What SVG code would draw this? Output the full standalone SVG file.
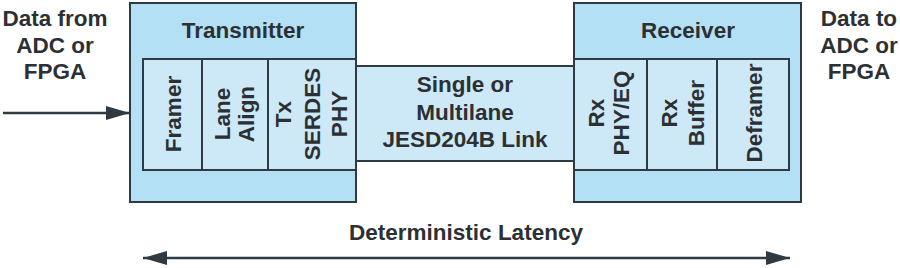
<svg xmlns="http://www.w3.org/2000/svg" width="900" height="268" viewBox="0 0 900 268">
<style>
text{font-family:"Liberation Sans",Arial,Helvetica,sans-serif;font-weight:bold;font-size:22.5px;fill:#2c3034;text-anchor:middle}
.outer{fill:#b4e0f5;stroke:#2f3a42;stroke-width:2}
.inner{fill:#cde9f7;stroke:#2f3a42;stroke-width:2}
.wire{stroke:#2f3a42;stroke-width:2.5;fill:none}
</style>
<defs>
<marker id="ah" viewBox="0 0 24 14" refX="24" refY="7" markerWidth="24" markerHeight="14" markerUnits="userSpaceOnUse" orient="auto-start-reverse">
<path d="M0,0 L24,7 L0,14 Z" fill="#2f3a42"/>
</marker>
</defs>
<g id="input-label">
<text x="55" y="26">Data from</text>
<text x="55" y="53">ADC or</text>
<text x="55" y="79">FPGA</text>
</g>
<g id="output-label">
<text x="859" y="26">Data to</text>
<text x="859" y="53">ADC or</text>
<text x="859" y="79">FPGA</text>
</g>
<g id="transmitter">
<rect class="outer" x="130" y="3" width="226" height="199"/>
<text x="243" y="38">Transmitter</text>
</g>
<g id="framer">
<rect class="inner" x="143" y="59" width="59" height="111"/>
<text transform="translate(181,114) rotate(-90)">Framer</text>
</g>
<g id="lane-align">
<rect class="inner" x="202" y="59" width="66" height="111"/>
<text transform="translate(229.5,114) rotate(-90)"><tspan x="0" y="0">Lane</tspan><tspan x="0" y="24">Align</tspan></text>
</g>
<g id="tx-serdes-phy">
<rect class="inner" x="268" y="59" width="88" height="111"/>
<text transform="translate(291,114) rotate(-90)"><tspan x="0" y="0">Tx</tspan><tspan x="0" y="29">SERDES</tspan><tspan x="0" y="56">PHY</tspan></text>
</g>
<g id="link">
<rect class="inner" x="356" y="66" width="218" height="95"/>
<text x="465" y="92">Single or</text>
<text x="465" y="119.5">Multilane</text>
<text x="465" y="147">JESD204B Link</text>
</g>
<g id="receiver">
<rect class="outer" x="574" y="3" width="227" height="199"/>
<text x="688" y="38">Receiver</text>
</g>
<g id="rx-phy-eq">
<rect class="inner" x="574" y="59" width="73" height="111"/>
<text transform="translate(603.5,113) rotate(-90)"><tspan x="0" y="0">Rx</tspan><tspan x="0" y="25.5">PHY/EQ</tspan></text>
</g>
<g id="rx-buffer">
<rect class="inner" x="647" y="59" width="70" height="111"/>
<text transform="translate(677,113) rotate(-90)"><tspan x="0" y="0">Rx</tspan><tspan x="0" y="26.5">Buffer</tspan></text>
</g>
<g id="deframer">
<rect class="inner" x="717" y="59" width="72" height="111"/>
<text transform="translate(761.5,113) rotate(-90)">Deframer</text>
</g>
<g id="latency-label">
<text x="466" y="240">Deterministic Latency</text>
</g>
<g id="connectors">
<line class="wire" x1="3" y1="113" x2="130" y2="113" marker-end="url(#ah)"/>
<line class="wire" x1="143" y1="258" x2="790" y2="258" marker-start="url(#ah)" marker-end="url(#ah)"/>
</g>
</svg>
